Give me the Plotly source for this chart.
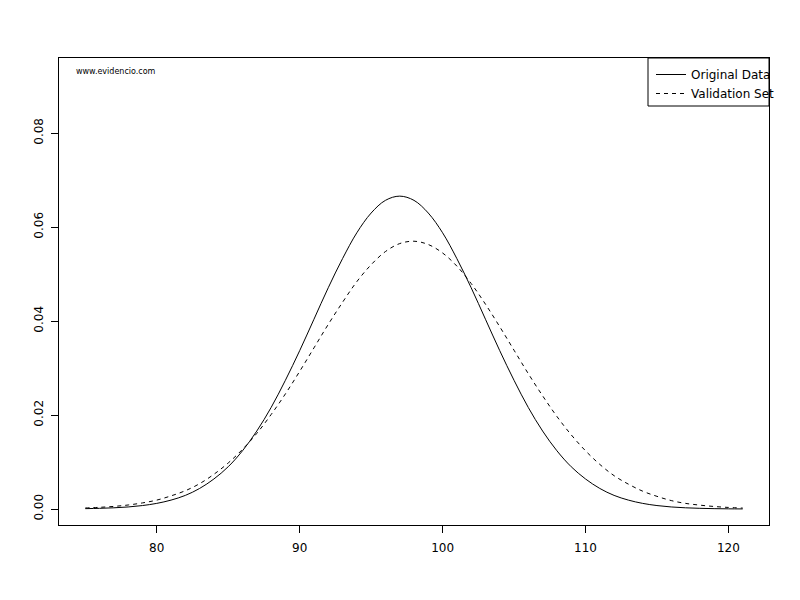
import plotly.graph_objects as go

# Values
x_vals = list(range(75, 122))
original = [0.00008, 0.00015, 0.00026, 0.00044, 0.00074, 0.0012, 0.0019, 0.0029, 0.00438, 0.0064,
            0.0090, 0.0124, 0.0166, 0.0216, 0.0274, 0.0337, 0.0404, 0.0471, 0.0533, 0.0588,
            0.0630, 0.0657, 0.0666, 0.0657, 0.0630, 0.0588, 0.0533, 0.0471, 0.0404, 0.0337,
            0.0274, 0.0216, 0.0166, 0.0124, 0.0090, 0.0064, 0.00438, 0.0029, 0.0019, 0.0012,
            0.00074, 0.00044, 0.00026, 0.00015, 0.00008, 0.00004, 0.00002]
validation = [0.00022, 0.00036, 0.00056, 0.00086, 0.0013, 0.0019, 0.0028, 0.0039, 0.0054, 0.0074,
              0.0098, 0.0127, 0.0161, 0.0201, 0.0245, 0.0293, 0.0343, 0.0393, 0.0440, 0.0484,
              0.0520, 0.0548, 0.0565, 0.0570, 0.0563, 0.0545, 0.0517, 0.0480, 0.0436, 0.0388,
              0.0338, 0.0288, 0.0241, 0.0197, 0.0158, 0.0124, 0.0095, 0.0071, 0.0053, 0.0038,
              0.0027, 0.0018, 0.0012, 0.00083, 0.00054, 0.00034, 0.00021]
x_ticks = [80, 90, 100, 110, 120]
y_ticks = [0.00, 0.02, 0.04, 0.06, 0.08]
y_tick_labels = ["0.00", "0.02", "0.04", "0.06", "0.08"]

FONT = "DejaVu Sans"

fig = go.Figure()
fig.add_trace(go.Scatter(x=x_vals, y=original, mode="lines", name="Original Data",
                         line=dict(color="black", width=1, shape="spline", smoothing=1)))
fig.add_trace(go.Scatter(x=x_vals, y=validation, mode="lines", name="Validation Set",
                         line=dict(color="black", width=1, dash="4px,4px", shape="spline", smoothing=1)))

fig.update_layout(
    width=800, height=600,
    margin=dict(l=59, r=31, t=58, b=75),
    paper_bgcolor="white", plot_bgcolor="white",
    font=dict(family=FONT, size=12, color="black"),
    showlegend=True,
    legend=dict(x=(651 - 59) / 710, y=1 - 2 / 467, xanchor="left", yanchor="top",
                bgcolor="rgba(0,0,0,0)", borderwidth=0, itemwidth=30,
                font=dict(family=FONT, size=12, color="black"), tracegroupgap=0),
)
fig.update_xaxes(range=[73.16, 122.84], tickvals=x_ticks, ticks="outside", ticklen=7,
                 tickcolor="black", showline=True, linecolor="black", linewidth=1, mirror=True,
                 showgrid=False, zeroline=False, tickfont=dict(family=FONT, size=12),
                 ticklabelstandoff=5)
fig.update_yaxes(range=[-0.0034, 0.0960], tickvals=y_ticks, ticktext=y_tick_labels, tickangle=-90,
                 ticks="outside", ticklen=7, tickcolor="black", showline=True, linecolor="black",
                 linewidth=1, mirror=True, showgrid=False, zeroline=False, tickfont=dict(family=FONT, size=12),
                 ticklabelstandoff=3)

# legend frame (clipped at plot edge as in reference)
fig.add_shape(type="rect", xref="paper", yref="paper", x0=(648 - 59) / 710, x1=1,
              y0=(525 - 106) / 467, y1=1, line=dict(color="black", width=1))

fig.add_annotation(text="www.evidencio.com", xref="paper", yref="paper",
                   x=(74 - 59) / 710, y=(525 - 71) / 467, xanchor="left", yanchor="middle",
                   showarrow=False, font=dict(family=FONT, size=8, color="black"))

fig.write_html("out.html", config={"displayModeBar": False},
               post_script="document.body.style.margin='0';")
